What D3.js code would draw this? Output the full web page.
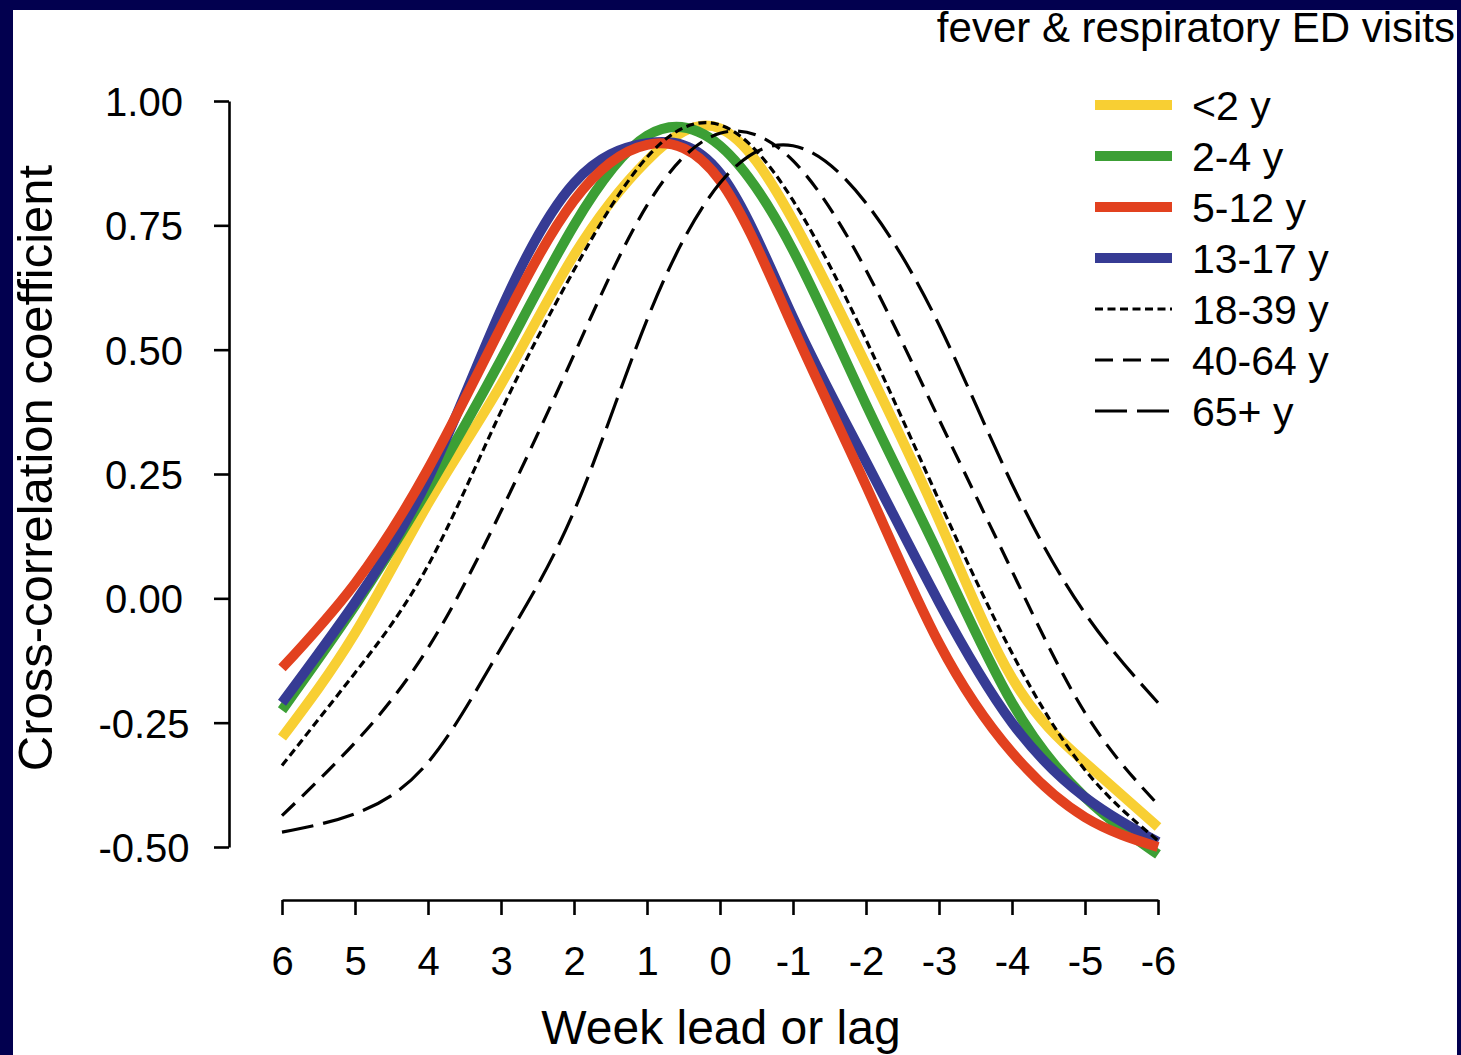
<!DOCTYPE html>
<html>
<head>
<meta charset="utf-8">
<script src="https://cdn.jsdelivr.net/npm/d3@7/dist/d3.min.js"></script>
<style>
  body { margin: 0; background: #02004f; }
  text { font-family: "Liberation Sans", Arial, Helvetica, sans-serif; fill: #000; }
</style>
</head>
<body>
<div id="chart"></div>
<script>
// week lead (+) or lag (-)
const weeks = [6, 5, 4, 3, 2, 1, 0, -1, -2, -3, -4, -5, -6];

// cross-correlation by age group
const under2  = [-0.28, -0.07, 0.19, 0.43, 0.69, 0.88, 0.945, 0.76, 0.47, 0.157, -0.16, -0.33, -0.46];
const age2_4  = [-0.225, -0.015, 0.22, 0.48, 0.75, 0.93, 0.91, 0.70, 0.39, 0.087, -0.21, -0.40, -0.515];
const age5_12 = [-0.14, 0.03, 0.26, 0.545, 0.80, 0.912, 0.84, 0.545, 0.227, -0.09, -0.31, -0.44, -0.50];
const age13_17 = [-0.21, -0.008, 0.24, 0.58, 0.835, 0.915, 0.855, 0.565, 0.275, -0.008, -0.25, -0.40, -0.49];
const age18_39 = [-0.336, -0.15, 0.066, 0.376, 0.66, 0.887, 0.952, 0.80, 0.52, 0.197, -0.11, -0.345, -0.487];
const age40_64 = [-0.437, -0.29, -0.10, 0.175, 0.49, 0.79, 0.935, 0.88, 0.66, 0.36, 0.055, -0.23, -0.415];
const age65up = [-0.47, -0.433, -0.33, -0.10, 0.175, 0.56, 0.835, 0.91, 0.795, 0.55, 0.23, -0.03, -0.21];

const groupNames = ["<2 y", "2-4 y", "5-12 y", "13-17 y", "18-39 y", "40-64 y", "65+ y"];
const yTicks = [1.00, 0.75, 0.50, 0.25, 0.00, -0.25, -0.50];

const series = [
    {name: groupNames[0], values: under2,   color: "#f8cf33", width: 10, dash: null},
    {name: groupNames[1], values: age2_4,   color: "#3c9f35", width: 10, dash: null},
    {name: groupNames[2], values: age5_12,  color: "#e2411f", width: 10, dash: null},
    {name: groupNames[3], values: age13_17, color: "#363b94", width: 10, dash: null},
    {name: groupNames[4], values: age18_39, color: "#000", width: 3.2, dash: "8,4.5"},
    {name: groupNames[5], values: age40_64, color: "#000", width: 3.2, dash: "18,10"},
    {name: groupNames[6], values: age65up,  color: "#000", width: 3.2, dash: "32,10"}
];
// drawing order: yellow, green, blue, red, then the black ones
const drawOrder = [0, 1, 3, 2, 4, 5, 6];

const W = 1461, H = 1055;
const svg = d3.select("#chart").append("svg")
    .attr("width", W)
    .attr("height", H);

svg.append("rect").attr("width", W).attr("height", H).attr("fill", "#02004f");
svg.append("rect").attr("x", 13).attr("y", 10).attr("width", 1444).attr("height", H - 10).attr("fill", "#fff");

let x = d3.scaleLinear().domain([6, -6]).range([282, 1158]);
let y = d3.scaleLinear().domain([-0.5, 1]).range([847, 101]);

// y axis
let yAxis = svg.append("g")
    .attr("transform", "translate(229,0)")
    .call(d3.axisLeft(y).tickValues(yTicks).tickSize(15).tickSizeOuter(0)
          .tickFormat(d => d.toFixed(2)));
yAxis.select(".domain").attr("stroke-width", 2.6);
yAxis.selectAll(".tick line").attr("stroke-width", 2.6);
yAxis.selectAll(".tick text")
    .attr("x", -85)
    .attr("dy", "0.36em")
    .style("text-anchor", "middle")
    .style("font-size", "40px");

// x axis
let xAxis = svg.append("g")
    .attr("transform", "translate(0,900)")
    .call(d3.axisBottom(x).tickValues(weeks).tickSize(15).tickSizeOuter(0)
          .tickFormat(d => String(d)));
xAxis.select(".domain").attr("stroke-width", 2.6);
xAxis.selectAll(".tick line").attr("stroke-width", 2.6);
xAxis.selectAll(".tick text")
    .attr("y", 75)
    .attr("dy", 0)
    .style("font-size", "40px");

// axis titles
svg.append("text")
    .attr("x", 721).attr("y", 1044)
    .style("text-anchor", "middle")
    .style("font-size", "48px")
    .text("Week lead or lag");

svg.append("text")
    .attr("transform", "translate(52,468) rotate(-90)")
    .style("text-anchor", "middle")
    .style("font-size", "49px")
    .text("Cross-correlation coefficient");

svg.append("text")
    .attr("x", 1455).attr("y", 42)
    .style("text-anchor", "end")
    .style("font-size", "42px")
    .text("fever & respiratory ED visits");

// curves
let line = d3.line()
    .x((d, i) => x(weeks[i]))
    .y(d => y(d))
    .curve(d3.curveNatural);

drawOrder.forEach(function(k) {
    let s = series[k];
    svg.append("path")
        .attr("d", line(s.values))
        .attr("fill", "none")
        .attr("stroke", s.color)
        .attr("stroke-width", s.width)
        .attr("stroke-dasharray", s.dash);
});

// legend
let legend = svg.append("g");
series.forEach(function(s, i) {
    let ly = 105 + i * 51;
    legend.append("line")
        .attr("x1", 1095).attr("x2", 1172)
        .attr("y1", ly).attr("y2", ly)
        .attr("stroke", s.color)
        .attr("stroke-width", s.width)
        .attr("stroke-dasharray", s.dash);
    legend.append("text")
        .attr("x", 1192).attr("y", ly)
        .attr("dy", "0.36em")
        .style("font-size", "41px")
        .text(s.name);
});
</script>
</body>
</html>
